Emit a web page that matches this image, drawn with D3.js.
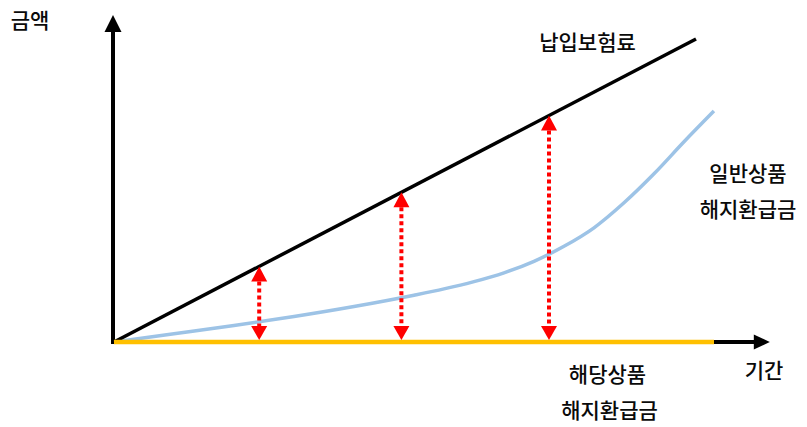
<!DOCTYPE html>
<html>
<head>
<meta charset="utf-8">
<script src="https://cdn.jsdelivr.net/npm/d3@7"></script>
<style>
  html, body { margin: 0; padding: 0; background: #fff; }
  svg { display: block; }
  text { font-family: "Noto Sans CJK KR", "Noto Sans", sans-serif; fill: #0a0a0a; font-weight: 500; }
</style>
</head>
<body>
<svg id="chart" width="807" height="427"></svg>
<script>
// ---- data (conceptual units: time 0..100, amount 0..330) ----
const premiumT = [0, 97];
const premiumV = [0, 303];
const generalT = [0, 10, 20, 30, 40, 50, 55, 60, 65, 70, 75, 80, 85, 90, 95, 100];
const generalV = [0, 8.2, 16.5, 25.5, 35.5, 46.8, 53.1, 60.4, 69.2, 80.7, 95.7, 114.2, 139.2, 168.2, 200.2, 231];
const productT = [0, 100];
const productV = [0, 0];
const arrowT = [24.2, 47.9, 72.5];
const arrowV = [75.5, 149.7, 226.5];
const axisEndT = 109.3;
const axisEndV = 327;
const labelPremium = "납입보험료";
const labelGeneral = ["일반상품", "해지환급금"];
const labelProduct = ["해당상품", "해지환급금"];
const labelYAxis = "금액";
const labelXAxis = "기간";

const svg = d3.select("#chart");
const x = d3.scaleLinear().domain([0, 100]).range([114, 714]);
const y = d3.scaleLinear().domain([0, 330]).range([342, 12]);

// ---- axes with arrowheads ----
const ax = svg.append("g");
ax.append("line")
  .attr("x1", x(0) - 1).attr("y1", y(0) + 2)
  .attr("x2", x(0) - 1).attr("y2", y(axisEndV) + 14)
  .attr("stroke", "#000").attr("stroke-width", 4);
ax.append("path")
  .attr("d", `M${x(0) - 1},${y(axisEndV)} L${x(0) - 9.5},${y(axisEndV) + 17} L${x(0) + 7.5},${y(axisEndV) + 17} Z`)
  .attr("fill", "#000");
ax.append("line")
  .attr("x1", x(0) - 3).attr("y1", y(0))
  .attr("x2", x(axisEndT) - 14).attr("y2", y(0))
  .attr("stroke", "#000").attr("stroke-width", 4);
ax.append("path")
  .attr("d", `M${x(axisEndT)},${y(0)} L${x(axisEndT) - 16},${y(0) - 7.5} L${x(axisEndT) - 16},${y(0) + 7.5} Z`)
  .attr("fill", "#000");

// general product surrender value (blue curve)
svg.append("path")
  .datum(d3.zip(generalT, generalV))
  .attr("d", d3.line().x(d => x(d[0])).y(d => y(d[1])).curve(d3.curveMonotoneX))
  .attr("fill", "none").attr("stroke", "#9DC3E6").attr("stroke-width", 3.5);

// premium paid (black line)
svg.append("path")
  .datum(d3.zip(premiumT, premiumV))
  .attr("d", d3.line().x(d => x(d[0])).y(d => y(d[1])))
  .attr("fill", "none").attr("stroke", "#000").attr("stroke-width", 3.5);

// this product surrender value (yellow, zero)
svg.append("path")
  .datum(d3.zip(productT, productV))
  .attr("d", d3.line().x(d => x(d[0])).y(d => y(d[1])))
  .attr("fill", "none").attr("stroke", "#FFC000").attr("stroke-width", 4.5);

// ---- red double arrows ----
const arrows = svg.append("g");
arrowT.forEach((t, i) => {
  const cx = x(t);
  const top = y(arrowV[i]);
  const bot = y(0) - 2;
  const g = arrows.append("g");
  g.append("line")
    .attr("x1", cx).attr("x2", cx)
    .attr("y1", top + 15).attr("y2", bot - 13)
    .attr("stroke", "#FF0000").attr("stroke-width", 4)
    .attr("stroke-dasharray", "4,3");
  g.append("path")
    .attr("d", `M${cx},${top} L${cx - 8},${top + 15} L${cx + 8},${top + 15} Z`)
    .attr("fill", "#FF0000");
  g.append("path")
    .attr("d", `M${cx},${bot} L${cx - 8},${bot - 14} L${cx + 8},${bot - 14} Z`)
    .attr("fill", "#FF0000");
});

// ---- labels ----
const fs = 21;
function label(txt, cx, cy) {
  svg.append("text")
    .attr("x", cx).attr("y", cy + fs * 0.36)
    .attr("text-anchor", "middle")
    .attr("font-size", fs)
    .text(txt);
}
label(labelYAxis, 30, 20);
label(labelPremium, 587.5, 42);
label(labelGeneral[0], 748, 173);
label(labelGeneral[1], 748, 209);
label(labelProduct[0], 607.5, 374);
label(labelProduct[1], 609.5, 410);
label(labelXAxis, 764, 370);
</script>
</body>
</html>
